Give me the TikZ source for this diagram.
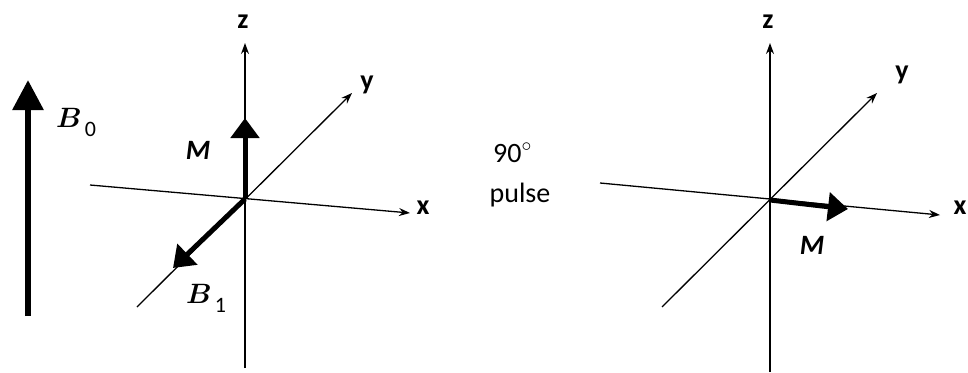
\RequirePackage{fix-cm}
\documentclass[tikz,border=0pt]{standalone}
\usepackage{bm}
\usepackage{fontspec}
\setmainfont{Carlito}
\usetikzlibrary{arrows.meta}
\newcommand\fieldlab[2]{$\bm{#1}$\kern3pt\raisebox{-9pt}{\fontsize{22}{22}\selectfont #2}}

\begin{document}
\begin{tikzpicture}[x=1pt, y=-1pt,
    axis/.style={line width=1.3pt, -{Stealth[length=11pt, width=8pt]}},
    vec/.style={line width=5pt, -{Triangle[length=20pt, width=28pt]}},
    lab/.style={font=\fontsize{28}{30}\selectfont\bfseries, inner sep=0pt},
    txt/.style={font=\fontsize{28}{30}\selectfont, inner sep=0pt}]
    \useasboundingbox (0,0) rectangle (968,372);

    % static field
    \coordinate (b0tail) at (28,316);
    \coordinate (b0tip) at (28,80);
    \draw[line width=6pt, -{Triangle[length=30pt, width=30pt]}] (b0tail) -- (b0tip);
    \node[txt, anchor=base west] (b0) at (56,127) {\fieldlab{B}{0}};

    % left frame, before the pulse
    \coordinate (o1) at (245,199);
    \coordinate (x1a) at (90,185);
    \coordinate (x1b) at (410,213);
    \coordinate (y1a) at (137,307);
    \coordinate (y1b) at (352,93);
    \coordinate (z1a) at (245,368);
    \coordinate (z1b) at (245,43);
    \draw[axis] (x1a) -- (x1b);
    \draw[axis] (y1a) -- (y1b);
    \draw[axis] (z1a) -- (z1b);
    \node[lab] (x1) at (423,208) {x};
    \node[lab] (y1) at (367,85) {y};
    \node[lab] (z1) at (243,22) {z};

    \coordinate (m1tip) at (245,118);
    \coordinate (b1tip) at (173,268);
    \draw[vec] (o1) -- (m1tip);
    \draw[vec] (o1) -- (b1tip);
    \node[txt] (m1) at (198,150) {\textbf{\textit{M}}};
    \node[txt, anchor=base west] (b1) at (186,303) {\fieldlab{B}{1}};

    % pulse
    \node[txt, anchor=base west] (deg) at (493,162) {90$^{\circ}$};
    \node[txt, anchor=base] (pulse) at (520,202) {pulse};

    % right frame, after the pulse
    \coordinate (o2) at (770,200);
    \coordinate (x2a) at (600,183);
    \coordinate (x2b) at (940,215);
    \coordinate (y2a) at (662,307);
    \coordinate (y2b) at (877,93);
    \coordinate (z2a) at (770,372);
    \coordinate (z2b) at (770,43);
    \draw[axis] (x2a) -- (x2b);
    \draw[axis] (y2a) -- (y2b);
    \draw[axis] (z2a) -- (z2b);
    \node[lab] (x2) at (960,208) {x};
    \node[lab] (y2) at (902,75) {y};
    \node[lab] (z2) at (768,22) {z};

    \coordinate (m2tip) at (848,209);
    \draw[vec] (o2) -- (m2tip);
    \node[txt] (m2) at (812,245) {\textbf{\textit{M}}};
\end{tikzpicture}
\end{document}
